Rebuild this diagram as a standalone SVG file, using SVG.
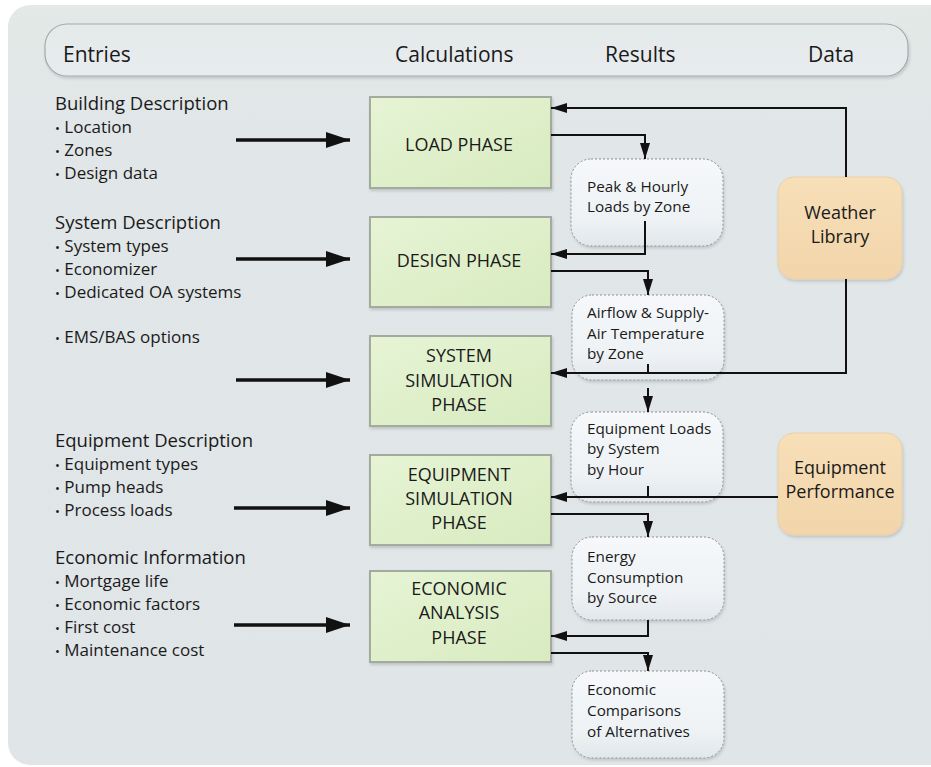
<svg xmlns="http://www.w3.org/2000/svg" width="931" height="767" viewBox="0 0 931 767">
<defs>
<style>
text{font-family:"Open Sans","Noto Sans","DejaVu Sans",sans-serif;fill:#1a1a1a}
.hdr{font-size:21px}
.ent{font-size:17px}
.enth{font-size:18.5px}
.b{font-size:13px}
.calc{font-size:18px;text-anchor:middle}
.res{font-size:15.3px}
.dat{font-size:18px;text-anchor:middle}
.calcbox{fill:url(#gGreen);stroke:#a3ab9f;stroke-width:2}
.resbox{fill:url(#gRes);stroke:#8a8f94;stroke-width:1;stroke-dasharray:2 2}
.datbox{fill:url(#gTan);stroke:#ead0a6;stroke-width:1}
.con{fill:none;stroke:#111;stroke-width:2}
.ent-arrow{fill:none;stroke:#111;stroke-width:3.5}
</style>
<linearGradient id="gBg" x1="0" y1="0" x2="0" y2="1">
<stop offset="0" stop-color="#e3e9e6"/>
<stop offset="0.15" stop-color="#e1e6e8"/>
<stop offset="1" stop-color="#e0e5e8"/>
</linearGradient>
<linearGradient id="gHdr" x1="0" y1="0" x2="0" y2="1">
<stop offset="0" stop-color="#e4e9ea"/>
<stop offset="1" stop-color="#e8ecee"/>
</linearGradient>
<linearGradient id="gGreen" x1="0" y1="0" x2="1" y2="1">
<stop offset="0" stop-color="#e6f4d5"/>
<stop offset="1" stop-color="#d8ebc0"/>
</linearGradient>
<linearGradient id="gRes" x1="0" y1="0" x2="0" y2="1">
<stop offset="0" stop-color="#f6f8fa"/>
<stop offset="0.7" stop-color="#eef2f5"/>
<stop offset="1" stop-color="#e2e7eb"/>
</linearGradient>
<linearGradient id="gTan" x1="0" y1="0" x2="0" y2="1">
<stop offset="0" stop-color="#f7dfb9"/>
<stop offset="1" stop-color="#f2d5aa"/>
</linearGradient>
<filter id="sh" x="-10%" y="-10%" width="130%" height="130%">
<feDropShadow dx="1" dy="2" stdDeviation="1.5" flood-color="#000" flood-opacity="0.15"/>
</filter>
<marker id="ah" markerUnits="userSpaceOnUse" markerWidth="16" markerHeight="10" refX="16" refY="5" orient="auto">
<path d="M0,0 L16,5 L0,10 z" fill="#111"/>
</marker>
<marker id="ahBig" markerUnits="userSpaceOnUse" markerWidth="24" markerHeight="16" refX="24" refY="8" orient="auto">
<path d="M0,0 L24,8 L0,16 z" fill="#111"/>
</marker>
</defs>

<rect x="0" y="0" width="931" height="767" fill="#ffffff"/>
<rect x="8" y="5" width="950" height="760" rx="22" fill="url(#gBg)"/>

<g id="header">
<rect x="45" y="24" width="863" height="52" rx="22" fill="url(#gHdr)" stroke="#a4a9ad" stroke-width="1.2" filter="url(#sh)"/>
<text class="hdr" x="63" y="62">Entries</text>
<text class="hdr" x="395" y="62">Calculations</text>
<text class="hdr" x="605" y="62">Results</text>
<text class="hdr" x="808" y="62">Data</text>
</g>

<g id="entries-building">
<text class="enth" x="55" y="110">Building Description</text>
<text class="ent" x="55" y="133"><tspan class="b">•</tspan> Location</text>
<text class="ent" x="55" y="156"><tspan class="b">•</tspan> Zones</text>
<text class="ent" x="55" y="179"><tspan class="b">•</tspan> Design data</text>
</g>
<g id="entries-system">
<text class="enth" x="55" y="229">System Description</text>
<text class="ent" x="55" y="252"><tspan class="b">•</tspan> System types</text>
<text class="ent" x="55" y="275"><tspan class="b">•</tspan> Economizer</text>
<text class="ent" x="55" y="298"><tspan class="b">•</tspan> Dedicated OA systems</text>
</g>
<g id="entries-ems">
<text class="ent" x="55" y="343"><tspan class="b">•</tspan> EMS/BAS options</text>
</g>
<g id="entries-equipment">
<text class="enth" x="55" y="447">Equipment Description</text>
<text class="ent" x="55" y="470"><tspan class="b">•</tspan> Equipment types</text>
<text class="ent" x="55" y="493"><tspan class="b">•</tspan> Pump heads</text>
<text class="ent" x="55" y="516"><tspan class="b">•</tspan> Process loads</text>
</g>
<g id="entries-economic">
<text class="enth" x="55" y="564">Economic Information</text>
<text class="ent" x="55" y="587"><tspan class="b">•</tspan> Mortgage life</text>
<text class="ent" x="55" y="610"><tspan class="b">•</tspan> Economic factors</text>
<text class="ent" x="55" y="633"><tspan class="b">•</tspan> First cost</text>
<text class="ent" x="55" y="656"><tspan class="b">•</tspan> Maintenance cost</text>
</g>

<g id="load-phase">
<rect class="calcbox" x="370" y="97" width="181" height="91" filter="url(#sh)"/>
<text class="calc" x="459" y="151">LOAD PHASE</text>
</g>
<g id="design-phase">
<rect class="calcbox" x="370" y="217" width="181" height="90" filter="url(#sh)"/>
<text class="calc" x="459" y="267">DESIGN PHASE</text>
</g>
<g id="system-simulation-phase">
<rect class="calcbox" x="370" y="336" width="181" height="90" filter="url(#sh)"/>
<text class="calc" x="459" y="362">SYSTEM</text>
<text class="calc" x="459" y="387">SIMULATION</text>
<text class="calc" x="459" y="411">PHASE</text>
</g>
<g id="equipment-simulation-phase">
<rect class="calcbox" x="370" y="455" width="181" height="90" filter="url(#sh)"/>
<text class="calc" x="459" y="481">EQUIPMENT</text>
<text class="calc" x="459" y="505">SIMULATION</text>
<text class="calc" x="459" y="529">PHASE</text>
</g>
<g id="economic-analysis-phase">
<rect class="calcbox" x="370" y="571" width="181" height="91" filter="url(#sh)"/>
<text class="calc" x="459" y="595">ECONOMIC</text>
<text class="calc" x="459" y="619">ANALYSIS</text>
<text class="calc" x="459" y="644">PHASE</text>
</g>

<g id="peak-hourly-loads">
<rect class="resbox" x="571" y="159" width="152" height="87" rx="20" filter="url(#sh)"/>
<text class="res" x="587" y="192">Peak &amp; Hourly</text>
<text class="res" x="587" y="212">Loads by Zone</text>
</g>
<g id="airflow-supply-air">
<rect class="resbox" x="572" y="295" width="152" height="85" rx="20" filter="url(#sh)"/>
<text class="res" x="587" y="318">Airflow &amp; Supply-</text>
<text class="res" x="587" y="339">Air Temperature</text>
<text class="res" x="587" y="359">by Zone</text>
</g>
<g id="equipment-loads">
<rect class="resbox" x="571" y="412" width="152" height="90" rx="20" filter="url(#sh)"/>
<text class="res" x="587" y="434">Equipment Loads</text>
<text class="res" x="587" y="454">by System</text>
<text class="res" x="587" y="475">by Hour</text>
</g>
<g id="energy-consumption">
<rect class="resbox" x="572" y="537" width="152" height="83" rx="20" filter="url(#sh)"/>
<text class="res" x="587" y="562">Energy</text>
<text class="res" x="587" y="583">Consumption</text>
<text class="res" x="587" y="603">by Source</text>
</g>
<g id="economic-comparisons">
<rect class="resbox" x="572" y="671" width="152" height="87" rx="20" filter="url(#sh)"/>
<text class="res" x="587" y="695">Economic</text>
<text class="res" x="587" y="716">Comparisons</text>
<text class="res" x="587" y="737">of Alternatives</text>
</g>

<g id="weather-library">
<rect class="datbox" x="778" y="177" width="124" height="102" rx="16" filter="url(#sh)"/>
<text class="dat" x="840" y="219">Weather</text>
<text class="dat" x="840" y="243">Library</text>
</g>
<g id="equipment-performance">
<rect class="datbox" x="778" y="433" width="124" height="102" rx="16" filter="url(#sh)"/>
<text class="dat" x="840" y="474">Equipment</text>
<text class="dat" x="840" y="498">Performance</text>
</g>

<g id="connectors">
<path class="con" d="M846,177 V108 H551" marker-end="url(#ah)"/>
<path class="con" d="M846,279 V373 H551" marker-end="url(#ah)"/>
<path class="con" d="M648,364 V373"/>
<path class="con" d="M551,135 H645 V159" marker-end="url(#ah)"/>
<path class="con" d="M645,221 V254 H551" marker-end="url(#ah)"/>
<path class="con" d="M551,271 H648 V295" marker-end="url(#ah)"/>
<path class="con" d="M648,388 V412" marker-end="url(#ah)"/>
<path class="con" d="M778,497 H551" marker-end="url(#ah)"/>
<path class="con" d="M648,486 V497"/>
<path class="con" d="M551,514 H648 V537" marker-end="url(#ah)"/>
<path class="con" d="M648,620 V636 H551" marker-end="url(#ah)"/>
<path class="con" d="M551,653 H648 V671" marker-end="url(#ah)"/>
<path class="ent-arrow" d="M236,140 H350" marker-end="url(#ahBig)"/>
<path class="ent-arrow" d="M236,259 H350" marker-end="url(#ahBig)"/>
<path class="ent-arrow" d="M236,380 H350" marker-end="url(#ahBig)"/>
<path class="ent-arrow" d="M234,508 H350" marker-end="url(#ahBig)"/>
<path class="ent-arrow" d="M234,625 H350" marker-end="url(#ahBig)"/>
</g>
</svg>
